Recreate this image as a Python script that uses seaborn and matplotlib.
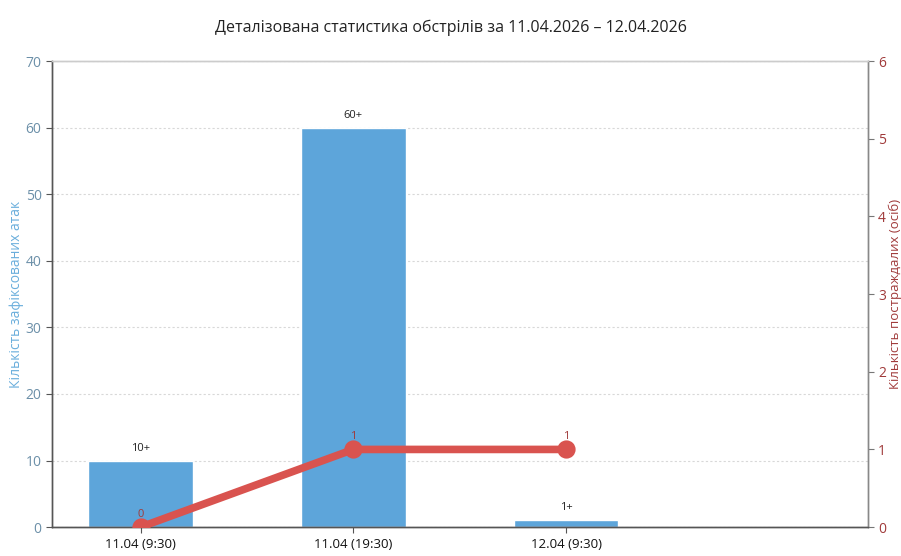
import matplotlib
matplotlib.use("Agg")
import matplotlib.pyplot as plt
import seaborn as sns
import pandas as pd

categories = ["11.04 (9:30)", "11.04 (19:30)", "12.04 (9:30)"]
attacks = [10, 60, 1]
attack_labels = ["10+", "60+", "1+"]
victims = [0, 1, 1]
victim_labels = ["0", "1", "1"]

title = "Деталізована статистика обстрілів за 11.04.2026 – 12.04.2026"
left_label = "Кількість зафіксованих атак"
right_label = "Кількість постраждалих (осіб)"

sns.set_style("white")
plt.rcParams["font.family"] = ["Open Sans", "DejaVu Sans"]

bar_color = "#5DA5DA"
line_color = "#D9534F"

df = pd.DataFrame({"cat": categories, "attacks": attacks, "victims": victims})

fig = plt.figure(figsize=(9.01, 5.56), dpi=100)
ax = fig.add_axes([0.0577, 0.052, 0.9053, 0.838])

sns.barplot(data=df, x="cat", y="attacks", order=categories, color=bar_color,
            width=0.49, saturation=1, ax=ax, zorder=2)
ax.set_ylim(0, 70)
ax.set_yticks(range(0, 71, 10))
ax.yaxis.grid(True, linestyle=(0, (2, 2)), color="#d8d8d8", linewidth=0.8)
ax.set_axisbelow(True)
for i, (v, lab) in enumerate(zip(attacks, attack_labels)):
    ax.annotate(lab, (i, v), xytext=(0, 5), textcoords="offset points",
                ha="center", va="bottom", fontsize=8, color="#222222")

ax.set_xlabel("")
ax.set_ylabel(left_label, color="#6aaedc", fontsize=10, labelpad=1)
ax.tick_params(axis="y", colors="#6b8fa8", labelsize=10, length=4, direction="out")
ax.tick_params(axis="y", left=True, color="#555555")
ax.tick_params(axis="x", labelsize=9.5, labelcolor="#111111", bottom=True, length=4, color="#555555")

ax2 = ax.twinx()
sns.pointplot(data=df, x="cat", y="victims", order=categories, color=line_color,
              markers="o", markersize=9, linewidth=5.5, ax=ax2, zorder=5)
ax2.set_ylim(0, 6)
ax2.set_yticks(range(0, 7))
for i, (v, lab) in enumerate(zip(victims, victim_labels)):
    ax2.annotate(lab, (i, v), xytext=(0, 5), textcoords="offset points",
                 ha="center", va="bottom", fontsize=8, color="#a03a3a", zorder=6)
ax2.set_ylabel(right_label, color="#a03a3a", fontsize=9.5, rotation=90, labelpad=2)
ax2.tick_params(axis="y", colors="#a03a3a", labelsize=10, length=4, right=True)
ax2.tick_params(axis="y", labelcolor="#a03a3a", color="#777777")
ax2.set_xlabel("")

ax.set_xlim(-0.416, 3.416)
ax2.set_xlim(-0.416, 3.416)

for a in (ax, ax2):
    a.spines["left"].set_color("#555555")
    a.spines["bottom"].set_color("#555555")
    a.spines["right"].set_color("#888888")
    a.spines["top"].set_color("#cccccc")
    for s in a.spines.values():
        s.set_linewidth(1.0)

ax.set_zorder(1)
ax2.set_zorder(2)
ax2.patch.set_visible(False)

fig.suptitle(title, y=0.965, fontsize=11.5, color="#222222")

fig.savefig("out.png", dpi=100)
